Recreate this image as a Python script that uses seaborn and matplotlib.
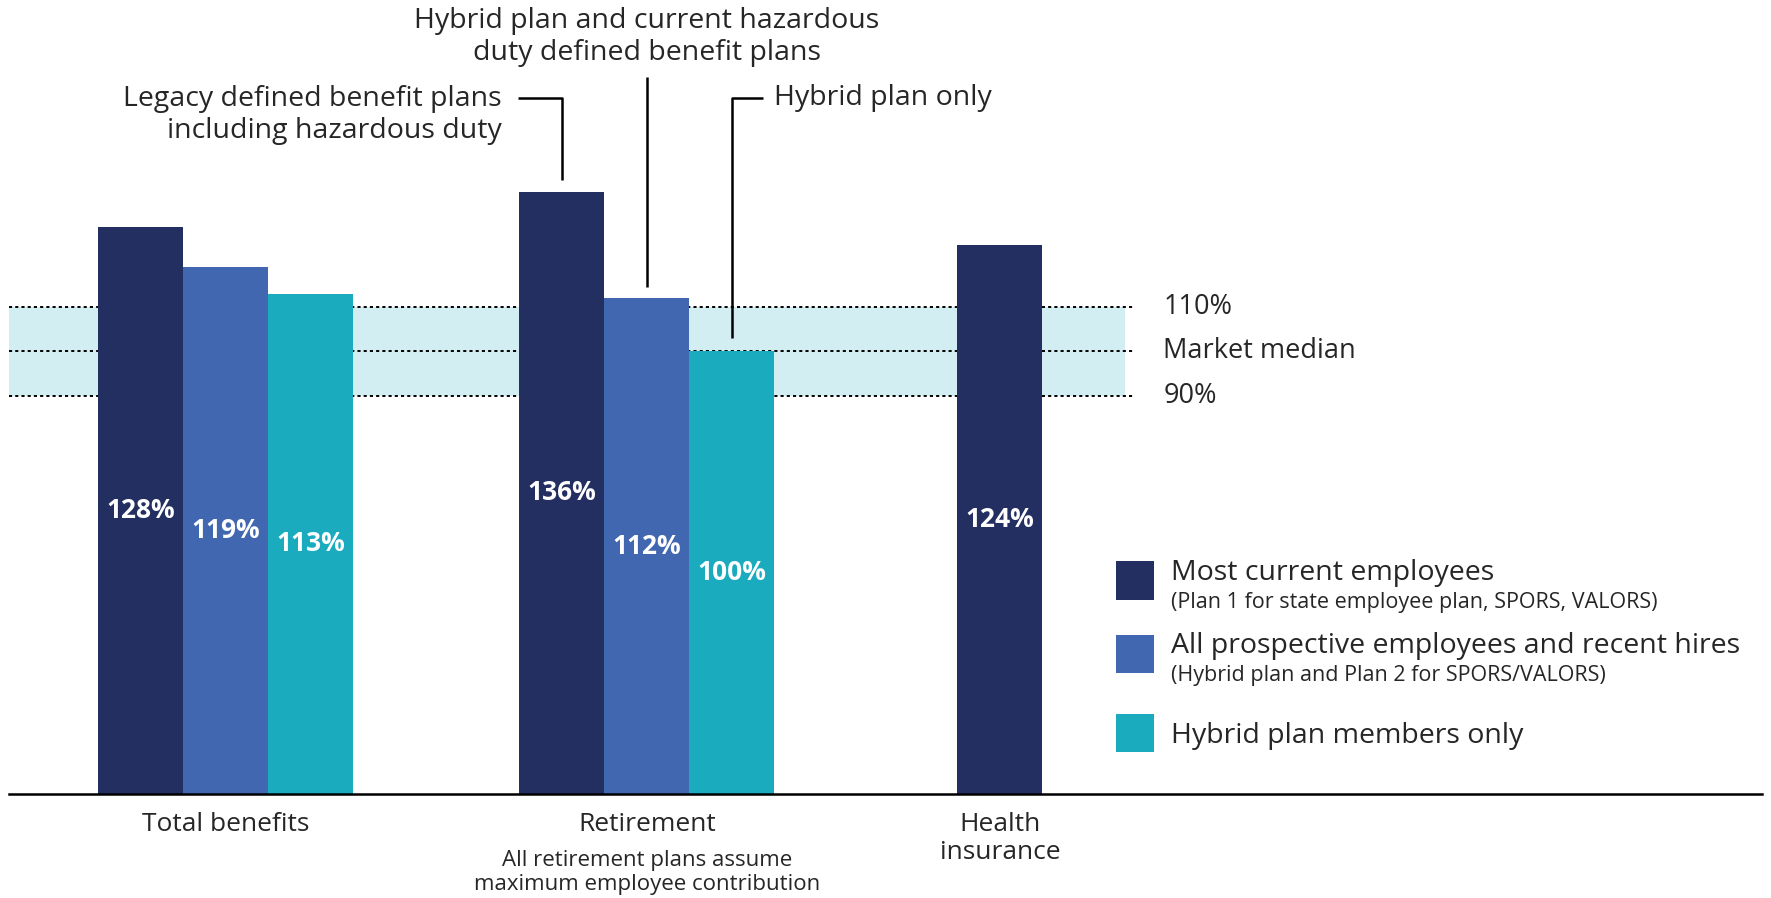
import pandas as pd
import matplotlib.pyplot as plt
from matplotlib.patches import Rectangle
import seaborn as sns

# --- DONNEES ---
categories = ["Total benefits", "Retirement", "Health insurance"]
tick_labels = ["Total benefits", "Retirement", "Health\ninsurance"]
series = ["Most current employees",
          "All prospective employees and recent hires",
          "Hybrid plan members only"]
series_notes = ["(Plan 1 for state employee plan, SPORS, VALORS)",
                "(Hybrid plan and Plan 2 for SPORS/VALORS)",
                ""]
most_current = [128, 136, 124]
prospective = [119, 112]
hybrid_only = [113, 100]
band_low, band_mid, band_high = 90, 100, 110

# --- MISE EN PAGE ---
colors = ["#232F60", "#4167B0", "#1BABBF"]
band_color = "#D2EEF2"
group_pos = [0.0, 4.95, 9.1]      # centre of each category on the x axis
REF_W, REF_H = 1568, 795          # size at which the reference was measured


def fig_xy(px, py):
    return px / REF_W, 1 - py / REF_H


sns.set_theme(style="white")
plt.rcParams["font.family"] = ["Open Sans", "DejaVu Sans"]

all_series = [most_current, prospective, hybrid_only]
rows = []
for i, (s, vals) in enumerate(zip(series, all_series)):
    for j, (cat, v) in enumerate(zip(categories, vals)):
        n = sum(1 for arr in all_series if len(arr) > j)
        rows.append({"pos": group_pos[j] + i - (n - 1) / 2, "value": v, "series": s})
df = pd.DataFrame(rows)

fig = plt.figure(figsize=(17.71, 8.98), dpi=100)
ax = fig.add_axes([8 / REF_W, 1 - 703 / REF_H, (1560 - 8) / REF_W, 703 / REF_H])

x_left = -2.55
x_right = x_left + (1560 - 8) / 75.3
ax.set_xlim(x_left, x_right)
ax.set_ylim(0, 703 / 3.92)

# bande "marché" +/- 10 %
band_end = x_left + (996 - 8) / 75.3
line_end = x_left + (1003 - 8) / 75.3
ax.fill_between([x_left, band_end], band_low, band_high, color=band_color,
                lw=0, zorder=0)
ax.hlines([band_low, band_mid, band_high], x_left, line_end, colors="black",
          linestyles=(0, (1.6, 1.6)), lw=1.4, zorder=0.5)

sns.barplot(data=df, x="pos", y="value", hue="series", hue_order=series,
            palette=colors, saturation=1, native_scale=True, dodge=False,
            width=1.0, errorbar=None, linewidth=0, legend=False, ax=ax, zorder=2)

for cont in ax.containers:
    ax.bar_label(cont, fmt="{:.0f}%", label_type="center", color="white",
                 fontsize=19, fontweight="bold")

# axe
ax.set_xticks(group_pos)
ax.set_xticklabels(tick_labels, fontsize=19, linespacing=1.15)
ax.tick_params(axis="x", length=0, pad=13)
ax.set_yticks([])
ax.set_xlabel("")
ax.set_ylabel("")
for side in ["top", "right", "left"]:
    ax.spines[side].set_visible(False)
ax.spines["bottom"].set_color("black")
ax.spines["bottom"].set_linewidth(1.8)

ax.text(group_pos[1], -12.6, "All retirement plans assume\nmaximum employee contribution",
        ha="center", va="top", fontsize=16, linespacing=1.17)

# libellés de la bande
label_x = x_left + (1030 - 8) / 75.3
for y, txt in [(band_high, "110%"), (band_mid, "Market median"), (band_low, "90%")]:
    ax.text(label_x, y, txt, ha="left", va="center", fontsize=19.5)

# annotations avec traits de rappel
ann_kw = dict(color="black", lw=1.8, solid_capstyle="butt", zorder=3)
b1 = group_pos[1] - 1
ax.plot([3.43, b1, b1], [157.1, 157.1, most_current[1] + 2.6], **ann_kw)
ax.text(3.24, 153.4, "Legacy defined benefit plans\nincluding hazardous duty",
        ha="right", va="center", fontsize=20.5, linespacing=1.2)

b2 = group_pos[1]
ax.plot([b2, b2], [162.0, prospective[1] + 2.6], **ann_kw)
ax.text(b2, 171.0, "Hybrid plan and current hazardous\nduty defined benefit plans",
        ha="center", va="center", fontsize=20.5, linespacing=1.2)

b3 = group_pos[1] + 1
ax.plot([6.31, b3, b3], [157.1, 157.1, hybrid_only[1] + 3.1], **ann_kw)
ax.text(6.44, 157.1, "Hybrid plan only", ha="left", va="center", fontsize=20.5)

# légende faite main
legend_tops = [497, 562, 632]
for c, name, note, top in zip(colors, series, series_notes, legend_tops):
    x0, y0 = fig_xy(988, top + 34)
    fig.add_artist(Rectangle((x0, y0), 34 / REF_W, 34 / REF_H,
                             transform=fig.transFigure, color=c, lw=0))
    tx, ty = fig_xy(1037, top + (10 if note else 20))
    fig.text(tx, ty, name, ha="left", va="center", fontsize=20.5)
    if note:
        nx, ny = fig_xy(1037, top + 36)
        fig.text(nx, ny, note, ha="left", va="center", fontsize=15.5)

fig.savefig("out.png", dpi=100)
